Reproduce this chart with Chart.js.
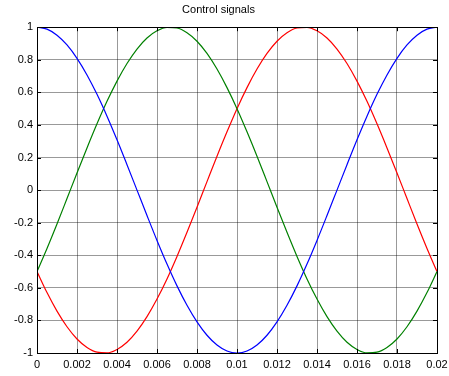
<!DOCTYPE html>
<html>
<head>
<meta charset="utf-8">
<script src="https://cdn.jsdelivr.net/npm/chart.js@4/dist/chart.umd.min.js"></script>
<style>
  html, body { margin: 0; padding: 0; background: #fff; }
  #mycanvas { display: block; }
</style>
</head>
<body>
<canvas id="mycanvas" width="449" height="376"></canvas>
<script>
// time (s), every 0.0005 s
var time = [0, 0.0005, 0.001, 0.0015, 0.002, 0.0025, 0.003, 0.0035, 0.004, 0.0045,
  0.005, 0.0055, 0.006, 0.0065, 0.007, 0.0075, 0.008, 0.0085, 0.009, 0.0095,
  0.01, 0.0105, 0.011, 0.0115, 0.012, 0.0125, 0.013, 0.0135, 0.014, 0.0145,
  0.015, 0.0155, 0.016, 0.0165, 0.017, 0.0175, 0.018, 0.0185, 0.019, 0.0195, 0.02];

var blueSig = [1, 0.988, 0.951, 0.891, 0.809, 0.707, 0.588, 0.454, 0.309, 0.156,
  0, -0.156, -0.309, -0.454, -0.588, -0.707, -0.809, -0.891, -0.951, -0.988,
  -1, -0.988, -0.951, -0.891, -0.809, -0.707, -0.588, -0.454, -0.309, -0.156,
  0, 0.156, 0.309, 0.454, 0.588, 0.707, 0.809, 0.891, 0.951, 0.988, 1];

var greenSig = [-0.5, -0.358, -0.208, -0.052, 0.105, 0.259, 0.407, 0.545, 0.669, 0.777,
  0.866, 0.934, 0.978, 0.999, 0.995, 0.966, 0.914, 0.839, 0.743, 0.629,
  0.5, 0.358, 0.208, 0.052, -0.105, -0.259, -0.407, -0.545, -0.669, -0.777,
  -0.866, -0.934, -0.978, -0.999, -0.995, -0.966, -0.914, -0.839, -0.743, -0.629, -0.5];

var redSig = [-0.5, -0.629, -0.743, -0.839, -0.914, -0.966, -0.995, -0.999, -0.978, -0.934,
  -0.866, -0.777, -0.669, -0.545, -0.407, -0.259, -0.105, 0.052, 0.208, 0.358,
  0.5, 0.629, 0.743, 0.839, 0.914, 0.966, 0.995, 0.999, 0.978, 0.934,
  0.866, 0.777, 0.669, 0.545, 0.407, 0.259, 0.105, -0.052, -0.208, -0.358, -0.5];

var chartTitle = 'Control signals';

function toPoints(ys) {
  var pts = [];
  for (var i in ys) {
    pts.push({x: time[i], y: ys[i]});
  }
  return pts;
}

function signal(ys, col) {
  return {
    data: toPoints(ys),
    borderColor: col,
    backgroundColor: col,
    borderWidth: 1.2,
    pointRadius: 0,
    cubicInterpolationMode: 'monotone',
    fill: false
  };
}

// black box round the plot, with small inward ticks on top and right like matlab
var boxPlugin = {
  id: 'box',
  afterDraw: function(chart) {
    var a = chart.chartArea, ctx = chart.ctx;
    var xs = chart.scales.x, ys = chart.scales.y;
    ctx.save();
    ctx.strokeStyle = '#000';
    ctx.lineWidth = 1;
    ctx.strokeRect(Math.round(a.left) + 0.5, Math.round(a.top) + 0.5,
      Math.round(a.right - a.left), Math.round(a.bottom - a.top));
    ctx.beginPath();
    xs.ticks.forEach(function(t) {
      var px = Math.round(xs.getPixelForValue(t.value)) + 0.5;
      ctx.moveTo(px, a.top); ctx.lineTo(px, a.top + 4);
      ctx.moveTo(px, a.bottom); ctx.lineTo(px, a.bottom - 4);
    });
    ys.ticks.forEach(function(t) {
      var py = Math.round(ys.getPixelForValue(t.value)) + 0.5;
      ctx.moveTo(a.left, py); ctx.lineTo(a.left + 4, py);
      ctx.moveTo(a.right, py); ctx.lineTo(a.right - 4, py);
    });
    ctx.stroke();
    ctx.restore();
  }
};

var ctx = document.getElementById('mycanvas');
var myChart = new Chart(ctx, {
  type: 'line',
  data: {
    datasets: [signal(blueSig, '#0000ff'), signal(greenSig, '#008000'), signal(redSig, '#ff0000')]
  },
  options: {
    responsive: false,
    animation: false,
    layout: { padding: { left: 0, right: 12, top: 0, bottom: 0 } },
    plugins: {
      legend: { display: false },
      tooltip: { enabled: false },
      title: {
        display: true,
        text: chartTitle,
        color: '#000',
        font: { family: 'Liberation Sans, Arial, sans-serif', size: 11, weight: 'normal' },
        padding: { top: 3, bottom: 11 }
      }
    },
    scales: {
      x: {
        type: 'linear',
        min: 0,
        max: 0.02,
        afterFit: function(s) { s.height = 23; s.paddingLeft = 0; s.paddingRight = 0; },
        grid: { color: 'rgba(0,0,0,0.4)', drawTicks: false },
        border: { display: false },
        ticks: {
          stepSize: 0.002,
          padding: 5,
          maxRotation: 0,
          autoSkip: false,
          color: '#000',
          font: { family: 'Liberation Sans, Arial, sans-serif', size: 11 },
          callback: function(v) { return String(Number(v.toFixed(4))); }
        }
      },
      y: {
        type: 'linear',
        min: -1,
        max: 1,
        afterFit: function(s) { s.width = 37; s.paddingTop = 0; s.paddingBottom = 0; },
        grid: { color: 'rgba(0,0,0,0.4)', drawTicks: false },
        border: { display: false },
        ticks: {
          stepSize: 0.2,
          padding: 4,
          autoSkip: false,
          color: '#000',
          font: { family: 'Liberation Sans, Arial, sans-serif', size: 11 },
          callback: function(v) { return String(Number(v.toFixed(2))); }
        }
      }
    }
  },
  plugins: [boxPlugin]
});
</script>
</body>
</html>
